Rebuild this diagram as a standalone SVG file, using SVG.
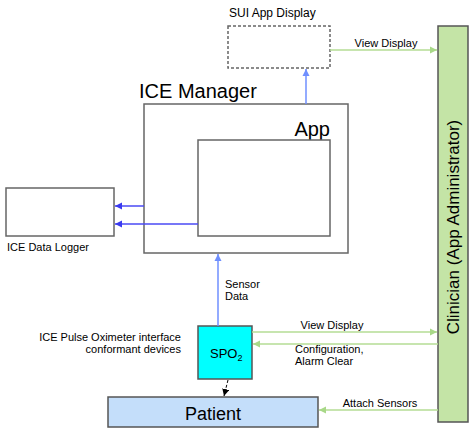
<svg xmlns="http://www.w3.org/2000/svg" width="475" height="429" viewBox="0 0 475 429">
<style>
text{font-family:"Liberation Sans",Arial,sans-serif;fill:#000}
.s{font-size:11px}
.box{fill:#fff;stroke:#666;stroke-width:1.5}
.blue{stroke:#6f8fff;stroke-width:1.5;fill:none}
.blue2{stroke:#4a4af5;stroke-width:1.5;fill:none}
.green{stroke:#b4dc94;stroke-width:1.5;fill:none}
</style>
<defs>
<marker id="ab" markerWidth="8" markerHeight="8" refX="7" refY="4" orient="auto" markerUnits="userSpaceOnUse"><path d="M0,0.5 L7,4 L0,7.5 Z" fill="#6f8fff"/></marker>
<marker id="ab2" markerWidth="8" markerHeight="8" refX="7" refY="4" orient="auto" markerUnits="userSpaceOnUse"><path d="M0,0.5 L7,4 L0,7.5 Z" fill="#3a3af0"/></marker>
<marker id="ag" markerWidth="8" markerHeight="8" refX="7" refY="4" orient="auto" markerUnits="userSpaceOnUse"><path d="M0,0.5 L7,4 L0,7.5 Z" fill="#a8d888"/></marker>
<marker id="ak" markerWidth="8" markerHeight="8" refX="7" refY="4" orient="auto" markerUnits="userSpaceOnUse"><path d="M0,0.5 L7,4 L0,7.5 Z" fill="#000"/></marker>
</defs>
<g id="sui-display">
<rect x="228" y="26" width="102" height="42" fill="#fff" stroke="#666" stroke-width="1.5" stroke-dasharray="3,2"/>
<text x="229" y="17" font-size="12">SUI App Display</text>
</g>
<g id="ice-manager">
<text x="139" y="98" font-size="20">ICE Manager</text>
<rect class="box" x="144" y="104" width="204" height="149"/>
<text x="330" y="136" font-size="20" text-anchor="end">App</text>
</g>
<g id="app">
<rect class="box" x="198" y="140" width="132" height="96"/>
</g>
<g id="data-logger">
<rect class="box" x="6" y="188" width="108" height="48"/>
<text class="s" x="7" y="251">ICE Data Logger</text>
</g>
<g id="clinician">
<rect x="438" y="26" width="30" height="396" fill="#c4e4a6" stroke="#555" stroke-width="1.5"/>
<text x="459" y="227" font-size="17" text-anchor="middle" transform="rotate(-90 459 227)">Clinician (App Administrator)</text>
</g>
<g id="spo2">
<rect x="198" y="326" width="54" height="53" fill="#00ffff" stroke="#555" stroke-width="1.5"/>
<text x="210" y="358" font-size="13">SPO<tspan font-size="9" dy="3">2</tspan></text>
<text class="s" x="181" y="341" text-anchor="end">ICE Pulse Oximeter interface</text>
<text class="s" x="181" y="353" text-anchor="end">conformant devices</text>
</g>
<g id="patient">
<rect x="108" y="397" width="210" height="30" fill="#c4defa" stroke="#555" stroke-width="1.5"/>
<text x="213" y="420" font-size="18" text-anchor="middle">Patient</text>
</g>
<g id="connectors">
<line class="green" x1="330" y1="50" x2="437" y2="50" marker-end="url(#ag)"/>
<text class="s" x="386" y="47" text-anchor="middle">View Display</text>
<line class="blue" x1="306" y1="104" x2="306" y2="69" marker-end="url(#ab)"/>
<line class="blue2" x1="144" y1="206" x2="115" y2="206" marker-end="url(#ab2)"/>
<line class="blue2" x1="198" y1="224" x2="115" y2="224" marker-end="url(#ab2)"/>
<line class="blue" x1="218" y1="326" x2="218" y2="254" marker-end="url(#ab)"/>
<text class="s" x="225" y="288">Sensor</text>
<text class="s" x="225" y="300">Data</text>
<line class="green" x1="252" y1="332" x2="437" y2="332" marker-end="url(#ag)"/>
<text class="s" x="332" y="329" text-anchor="middle">View Display</text>
<line class="green" x1="438" y1="344" x2="253" y2="344" marker-end="url(#ag)"/>
<text class="s" x="295" y="353">Configuration,</text>
<text class="s" x="295" y="365">Alarm Clear</text>
<line x1="228" y1="380" x2="224" y2="396" stroke="#000" stroke-width="1" stroke-dasharray="3,2" marker-end="url(#ak)"/>
<line class="green" x1="438" y1="410" x2="319" y2="410" marker-end="url(#ag)"/>
<text class="s" x="380" y="407" text-anchor="middle">Attach Sensors</text>
</g>
</svg>
